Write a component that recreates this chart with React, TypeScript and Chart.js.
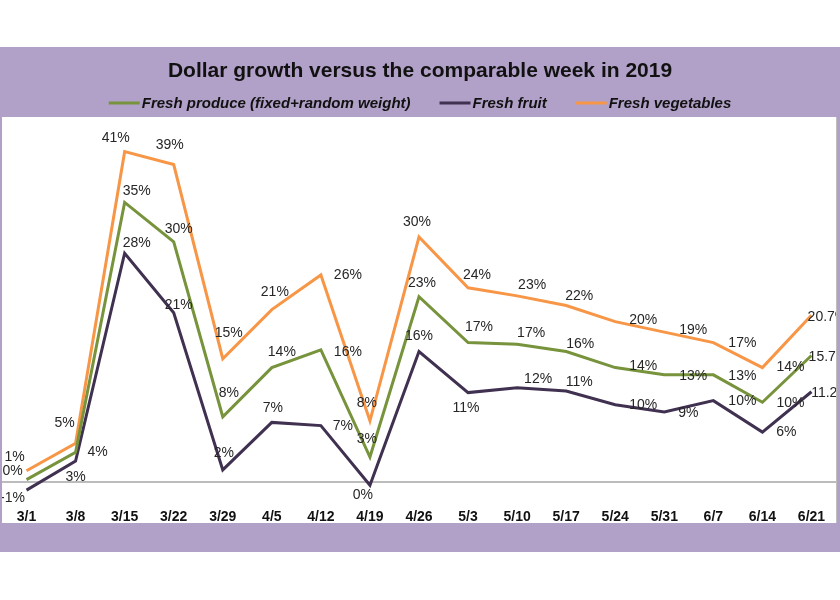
import React, { useEffect, useRef } from "react";
import { Chart, registerables } from "chart.js";

Chart.register(...registerables);

const categories = ["3/1", "3/8", "3/15", "3/22", "3/29", "4/5", "4/12", "4/19", "4/26", "5/3", "5/10", "5/17", "5/24", "5/31", "6/7", "6/14", "6/21"];
const produce = [0.3, 3.7, 34.7, 29.8, 8.1, 14.2, 16.4, 3.1, 23.0, 17.3, 17.1, 16.2, 14.2, 13.3, 13.3, 9.9, 15.7];
const fruit = [-1.0, 2.6, 28.4, 21.0, 1.5, 7.4, 7.0, -0.4, 16.2, 11.1, 11.7, 11.3, 9.6, 8.7, 10.1, 6.2, 11.2];
const vegetables = [1.4, 4.8, 41.0, 39.4, 15.3, 21.4, 25.7, 7.6, 30.4, 24.1, 23.1, 21.9, 19.9, 18.6, 17.3, 14.2, 20.7];
const seriesNames = ["Fresh produce (fixed+random weight)", "Fresh fruit", "Fresh vegetables"];
const titleText = "Dollar growth versus the comparable week in 2019";

// label placement offsets (px) relative to each point
const produceOffsets = [[-14, -8], [22, 0], [12, -11], [5, -13], [6, -24], [10, -15], [27, 2], [-3, -18], [3, -14], [11, -15], [14, -11], [14, -7], [28, -1], [29, 1], [29, 1], [28, 1], [17, 2]];
const fruitOffsets = [[-14, 8], [0, 16], [12, -10], [5, -8], [1, -17], [1, -14], [22, 1], [-7, 10], [0, -15], [-2, 16], [21, -9], [13, -9], [28, 0], [24, 1], [29, 1], [24, 0], [19, 1]];
const vegOffsets = [[-12, -14], [-11, -20], [-9, -14], [-4, -19], [6, -26], [3, -17], [27, 0], [-3, -18], [-2, -15], [9, -13], [15, -11], [13, -9], [28, -2], [29, -2], [29, 1], [28, 0], [16, 2]];

const COLORS = { produce: "#77933C", fruit: "#403151", veg: "#F79646" };
const FRAME = "#B1A0C7";
const PANEL = { left: 2, top: 117, right: 836, bottom: 523 };

const fmt = (v: number, i: number, n: number) => (i === n - 1 ? v.toFixed(1) : String(Math.round(v) === 0 ? 0 : Math.round(v))) + "%";

const decorPlugin = {
  id: "decor",
  beforeDraw(chart: any) {
    const ctx = chart.ctx;
    ctx.save();
    ctx.fillStyle = "#ffffff";
    ctx.fillRect(0, 0, chart.width, chart.height);
    ctx.fillStyle = FRAME;
    ctx.fillRect(0, 47, 840, 505);
    ctx.fillStyle = "#ffffff";
    ctx.fillRect(PANEL.left, PANEL.top, PANEL.right - PANEL.left, PANEL.bottom - PANEL.top);
    ctx.strokeStyle = "#bfbfbf";
    ctx.lineWidth = 1;
    ctx.beginPath();
    ctx.moveTo(PANEL.right + 0.5, PANEL.top);
    ctx.lineTo(PANEL.right + 0.5, PANEL.bottom);
    ctx.stroke();
    // title
    ctx.fillStyle = "#111111";
    ctx.font = "bold 21px 'Liberation Sans', Arial, sans-serif";
    ctx.textAlign = "center";
    ctx.textBaseline = "middle";
    ctx.fillText(titleText, 420, 71);
    // legend
    ctx.font = "italic bold 15px 'Liberation Sans', Arial, sans-serif";
    ctx.textAlign = "left";
    const colors = [COLORS.produce, COLORS.fruit, COLORS.veg];
    const lineLen = 31;
    const gapAfterLine = 2;
    const gapBetween = 29;
    const widths = seriesNames.map((s) => ctx.measureText(s).width);
    const total = widths.reduce((a, w) => a + lineLen + gapAfterLine + w, 0) + gapBetween * 2;
    let x = 420 - total / 2;
    const ly = 103;
    seriesNames.forEach((s, i) => {
      ctx.strokeStyle = colors[i];
      ctx.lineWidth = 3;
      ctx.beginPath();
      ctx.moveTo(x, ly);
      ctx.lineTo(x + lineLen, ly);
      ctx.stroke();
      ctx.fillStyle = "#111111";
      ctx.fillText(s, x + lineLen + gapAfterLine, ly + 1);
      x += lineLen + gapAfterLine + widths[i] + gapBetween;
    });
    // zero line
    const y0 = chart.scales.y.getPixelForValue(0);
    ctx.strokeStyle = "#a6a6a6";
    ctx.lineWidth = 1.5;
    ctx.beginPath();
    ctx.moveTo(chart.chartArea.left, y0);
    ctx.lineTo(chart.chartArea.right, y0);
    ctx.stroke();
    ctx.restore();
  },
  afterDatasetsDraw(chart: any) {
    const ctx = chart.ctx;
    const offsets = [produceOffsets, fruitOffsets, vegOffsets];
    ctx.save();
    ctx.beginPath();
    ctx.rect(PANEL.left, PANEL.top, PANEL.right - PANEL.left, PANEL.bottom - PANEL.top);
    ctx.clip();
    ctx.font = "14px 'Liberation Sans', Arial, sans-serif";
    ctx.fillStyle = "#262626";
    ctx.textAlign = "center";
    ctx.textBaseline = "middle";
    chart.data.datasets.forEach((ds: any, di: number) => {
      const meta = chart.getDatasetMeta(di);
      meta.data.forEach((pt: any, i: number) => {
        const off = offsets[di][i];
        ctx.fillText(fmt(ds.data[i], i, ds.data.length), pt.x + off[0], pt.y + off[1]);
      });
    });
    ctx.restore();
  },
};

export default function App() {
  const ref = useRef<HTMLCanvasElement>(null);
  useEffect(() => {
    if (!ref.current) return;
    const chart = new Chart(ref.current, {
      type: "line",
      data: {
        labels: categories,
        datasets: [
          { label: seriesNames[0], data: produce, borderColor: COLORS.produce, backgroundColor: COLORS.produce, borderWidth: 3, pointRadius: 0, tension: 0 },
          { label: seriesNames[1], data: fruit, borderColor: COLORS.fruit, backgroundColor: COLORS.fruit, borderWidth: 3, pointRadius: 0, tension: 0 },
          { label: seriesNames[2], data: vegetables, borderColor: COLORS.veg, backgroundColor: COLORS.veg, borderWidth: 3, pointRadius: 0, tension: 0 },
        ],
      },
      options: {
        responsive: false,
        animation: false,
        devicePixelRatio: 1,
        layout: { padding: { left: 2, right: 4, top: 117, bottom: 71 } },
        plugins: { legend: { display: false }, title: { display: false }, tooltip: { enabled: false } },
        scales: {
          x: {
            offset: true,
            grid: { display: false, drawTicks: false },
            border: { display: false },
            ticks: {
              padding: 3,
              color: "#111111",
              font: { family: "'Liberation Sans', Arial, sans-serif", size: 14, weight: "bold" },
              maxRotation: 0,
              autoSkip: false,
            },
          },
          y: {
            display: false,
            min: -3,
            max: 45.3,
          },
        },
      },
      plugins: [decorPlugin],
    });
    return () => chart.destroy();
  }, []);
  return (
    <div style={{ position: "absolute", left: 0, top: 0, width: 840, height: 600 }}>
      <canvas ref={ref} width={840} height={600} style={{ display: "block", width: 840, height: 600 }} />
    </div>
  );
}
